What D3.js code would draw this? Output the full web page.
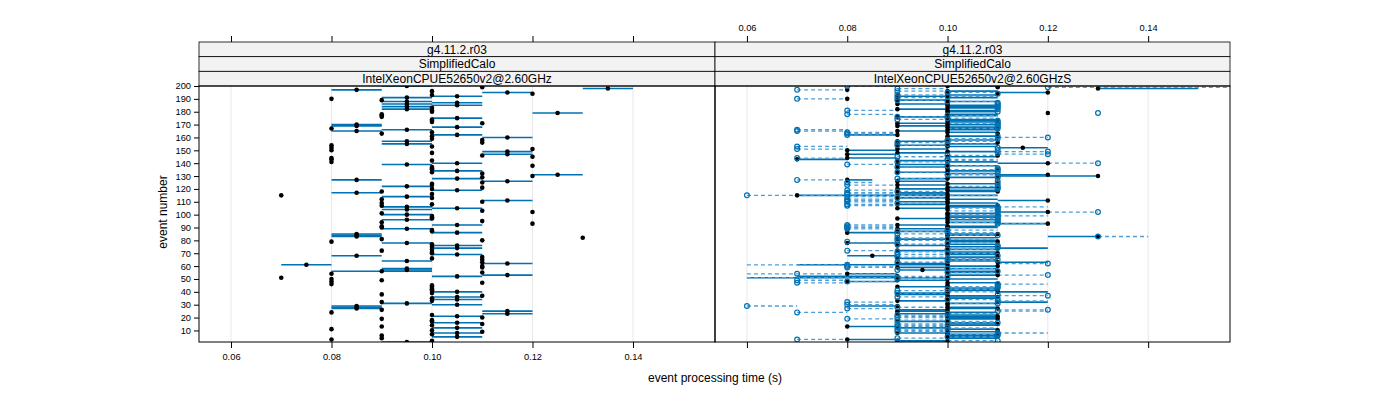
<!DOCTYPE html>
<html><head><meta charset="utf-8">
<script src="https://cdn.jsdelivr.net/npm/d3@7/dist/d3.min.js"></script>
<style>body{margin:0;background:#fff} text{font-family:"Liberation Sans",Arial,sans-serif}</style>
</head><body><svg id="c" width="1400" height="400"></svg>
<script>
// ---------- data (times in centiseconds, i.e. 1/100 s) ----------
const stripTop = ["g4.11.2.r03", "g4.11.2.r03"];
const stripMid = ["SimplifiedCalo", "SimplifiedCalo"];
const stripBot = ["IntelXeonCPUE52650v2@2.60GHz", "IntelXeonCPUE52650v2@2.60GHzS"];
const xTicks = [0.06, 0.08, 0.10, 0.12, 0.14];
const xTickLabels = ["0.06", "0.08", "0.10", "0.12", "0.14"];
const yTicks = [10,20,30,40,50,60,70,80,90,100,110,120,130,140,150,160,170,180,190,200];
const eventIds = [
 1,2,3,4,5,6,7,8,9,10,11,12,13,14,15,16,17,18,19,20,21,22,23,24,25,26,27,28,29,30,31,32,33,34,35,36,37,38,39,40,
 41,42,43,44,45,46,47,48,49,50,51,52,53,54,55,56,57,58,59,60,61,62,63,64,65,66,67,68,69,70,71,72,73,74,75,76,77,78,79,80,
 81,82,83,84,85,86,87,88,89,90,91,92,93,94,95,96,97,98,99,100,101,102,103,104,105,106,107,108,109,110,111,112,113,114,115,116,117,118,119,120,
 121,122,123,124,125,126,127,128,129,130,131,132,133,134,135,136,137,138,139,140,141,142,143,144,145,146,147,148,149,150,151,152,153,154,155,156,157,158,159,160,
 161,162,163,164,165,166,167,168,169,170,171,172,173,174,175,176,177,178,179,180,181,182,183,184,185,186,187,188,189,190,191,192,193,194,195,196,197,198,199,200];

// left panel: run range (min, max); point = mean
const leftMin = [
 9,10,8,9,10,9,10,10,11,10, 8,10,9,10,11,10,10,10,9,11, 10,10,11,8,11,9,8,8,8,10, 9,9,10,10,10,10,11,9,10,10,
 10,10,10,10,10,8,11,8,9,8, 7,10,11,8,11,8,9,9,11,11, 7,11,11,9,11,10,11,8,10,10, 10,9,10,10,10,10,10,9,8,11,
 9,13,8,8,8,10,10,10,9,9, 9,10,12,9,11,9,10,10,10,9, 9,12,11,9,10,9,9,10,9,11, 11,9,10,9,7,10,8,9,10,10,
 11,9,10,10,11,11,8,10,11,12, 12,11,10,10,10,10,10,12,9,10, 8,10,8,8,12,11,11,10,11,8, 12,8,10,8,9,11,9,11,10,11,
 10,10,9,10,8,9,8,10,8,8, 11,10,10,10,10,9,9,9,12,10, 10,9,10,9,10,9,10,9,9,8, 9,10,10,12,11,10,8,13,11,9];
const leftMax = [
 10,10,8,9,11,9,10,11,11,10, 8,11,9,10,11,11,10,10,9,11, 11,10,12,8,12,9,9,9,9,11, 10,9,10,11,10,11,11,9,10,11,
 10,10,10,10,10,8,11,8,9,8, 7,11,12,8,11,10,10,10,11,11, 8,12,11,10,11,10,11,9,11,10, 10,9,10,11,10,11,10,10,8,11,
 9,13,9,9,9,11,10,10,10,9, 9,11,12,9,11,10,10,10,10,10, 9,12,11,10,11,10,9,10,9,11, 12,9,10,10,7,10,9,9,11,10,
 11,10,10,10,11,12,9,11,11,12, 13,11,10,11,10,10,10,12,10,11, 8,10,8,8,12,11,12,10,12,8, 12,8,10,8,10,11,10,11,10,12,
 10,11,9,10,9,10,8,11,9,9, 11,10,10,10,11,9,9,9,13,10, 10,10,10,10,11,10,11,10,9,8, 10,11,10,12,12,10,9,14,11,10];

// right panel, group 1 (filled black points, solid range lines)
const rBlackPt = [
 10,9,8,10,10,11,10,9,10,11, 10,9,8,10,11,10,9,10,11,10, 11,10,9,10,9,10,11,10,9,10, 10,11,9,10,10,11,10,9,10,11,
 10,11,10,9,10,11,10,8,9,10, 10,9,11,8,10,11,9.5,10,9,11, 10,9,11,10,10,9,11,8.5,10,11, 10,9,10,11,10,9,10,8,11,10,
 9,10,13,10,11,8,9,10,9,10, 10,9,12,10,11,10,9,10,11,10, 10,12,11,10,9,10,11,9,10,10, 12,10,9,10,7,10,9,11,10,9,
 10,11,9,10,11,9,8,10,11,13, 12,10,9,10,11,10,9,10,9,12, 10,9,7,8,10,11,8,9,10,8, 9,11.5,10,9,10,11,9,10,10,11,
 10,9,11,10,9,10,11,10,9,10, 9,10,11,10,10,9,10,10,12,10, 10,9,10,11,10,9,10,10,9,8, 10,9,10,11,12,10,8,13,11,10];
const rBlackMin = [
 9,9,8,10,10,10,10,9,10,11, 10,9,8,10,10,10,9,10,10,10, 10,10,9,10,9,9,10,10,8,10, 10,11,9,10,10,10,10,9,9,11,
 10,10,10,9,10,11,10,8,9,10, 6,7,10,8,10,10,9,10,9,10, 7,9,11,10,10,9,10,8,10,10, 10,9,10,11,10,9,10,8,10,10,
 9,10,12,10,10,8,9,10,9,10, 10,9,11,10,11,10,9,10,10,10, 10,11,11,10,9,10,10,9,10,9, 11,10,9,10,7,9,9,10,10,9,
 10,11,9,10,11,9,8,9,10,11, 11,10,9,10,11,10,9,10,9,11, 10,9,7,8,10,11,8,9,10,8, 9,11,10,9,10,11,9,10,10,11,
 10,8,11,10,9,10,10,10,9,10, 9,10,10,10,10,9,10,10,12,10, 10,9,10,10,10,9,10,10,9,8, 10,9,10,11,11,10,8,13,11,10];
const rBlackMax = [
 10,10,9,11,11,11,11,10,11,11, 11,10,9,11,11,11,10,10,11,11, 11,11,10,11,10,10,11,11,9,10, 11,12,10,10,11,11,11,10,10,12,
 11,11,11,10,10,11,11,9,10,11, 10,9,11,9,11,11,10,11,10,11, 10,10,12,11,11,10,11,9,11,11, 11,10,11,12,11,10,11,9,11,11,
 10,11,13,11,11,9,10,10,10,11, 11,10,12,11,11,11,10,11,11,10, 11,12,11,10,10,11,11,10,11,10, 12,11,10,10,11,10,10,11,11,10,
 11,11,10,11,11,10,8.5,10,11,13, 12,11,10,11,11,10,10,11,10,12, 11,10,8,9,11,11,9,10,11,9, 10,12,11,10,11,11,10,11,10,11,
 11,9,11,11,10,11,11,11,10,11, 10,11,11,11,10,10,11,11,12,11, 11,10,11,11,11,10,10,11,10,8, 11,10,11,11,12,11,8,15,11,11];

// right panel, group 2 (open blue points, dashed range lines)
const rBluePt = [
 9,11,7,9,10,11,11,11,9,10, 9,10,9,10,9,11,10,9,8,9, 10,9,10,7,11,12,8,9,6,8, 11,8,11,10,11,9,12,11,9,10,
 9,10,11,11,11,11,7,8,7,9, 9,10,12,7,10,11,9,10,8,8, 8,12,9,10,11,10,9,11,9,10, 9,8,10,11,11,11,9,10,8,9,
 10,9,13,11,9,10,9,10,8,8, 8,8,11,11,11,11,11,11,11,11, 11,13,11,11,11,11,8,8,9,8, 8,8,9,8,6,8,8,9,8,11,
 11,11,8,11,8,11,7,9,11,11, 10,11,9,11,11,11,9,10,8,13, 9,10,10,7,9,10,12,11,12,11, 7,11,7,9,10,9,10,10,11,12,
 11,8,8,8,7,7,11,11,11,11, 11,11,11,9,10,9,10,8,13,11, 8,11,11,11,11,11,11,10,9,7, 9,10,9,11,10,9,7,9,12,8];
const rBlueMin = [
 9,10,7,9,10,11,10,11,9,9, 9,10,9,9,9,10,10,9,8,9, 9,9,10,7,11,11,8,9,6,8, 10,8,11,10,11,9,11,11,9,10,
 9,10,11,10,11,11,7,8,7,9, 6,9,11,6,10,11,9,10,8,8, 6,11,9,10,10,10,9,11,9,10, 9,8,10,10,11,11,9,10,8,9,
 10,9,13,10,9,10,9,10,8,8, 8,8,11,10,11,11,10,11,11,10, 11,12,10,11,10,11,8,8,9,8, 8,8,9,8,6,8,8,9,8,11,
 11,10,8,11,8,11,7,9,11,11, 10,10,9,11,10,11,9,10,8,12, 9,10,10,7,9,10,11,11,11,11, 7,11,7,9,10,9,10,10,10,11,
 11,8,8,8,7,7,10,11,11,11, 10,11,11,9,10,9,10,8,13,11, 8,11,11,11,11,11,11,10,9,7, 9,10,9,11,10,9,7,9,12,8];
const rBlueMax = [
 10,11,8,10,11,11,11,12,10,10, 10,11,10,10,10,11,11,10,9,10, 10,10,11,8,12,12,9,10,7,9, 11,9,12,11,11,10,12,11,10,11,
 10,11,11,11,11,12,8,9,8,10, 10,10,12,9,11,11,10,11,9,9, 8,12,10,11,11,11,10,11,10,11, 10,9,11,11,11,11,10,11,8,10,
 11,10,14,11,10,11,10,11,9,9, 9,9,12,11,11,11,11,11,12,11, 11,13,11,11,11,12,9,9,10,9, 9,9,10,9,11,9,9,10,9,11,
 11,11,9,11,8.5,11,8,10,11,11, 11,11,10,11,11,11,10,11,9,13, 10,11,11,8,10,11,12,11,12,11, 8,11,8,10,11,10,11,11,11,12,
 11,9,9,9,8,8,11,11,11,11, 11,11,11,10,11,10,11,9,13,11, 9,11,11,11,11,11,11,11,10,8, 10,11,10,11,11,10,8,10,16,9];

// ---------- layout ----------
const svg = d3.select("#c");
const panels = [{x0:199, x1:715}, {x0:715, x1:1230}];
const stripY0 = 42, stripH = 14.67, pTop = 86, pBot = 342;
const y = d3.scaleLinear().domain([1, 200]).range([pBot, pTop]);
const xScales = panels.map(p => d3.scaleLinear().domain([0.053632, 0.156322]).range([p.x0, p.x1]));
const cs = v => v / 100;

const blue = "#0072B2", lightBlue = "#4d9fd6";

panels.forEach((p, i) => {
  const x = xScales[i];
  const g = svg.append("g");
  const clipId = "clip" + i;
  svg.append("clipPath").attr("id", clipId).append("rect")
    .attr("x", p.x0).attr("y", pTop).attr("width", p.x1 - p.x0).attr("height", pBot - pTop);
  const inner = g.append("g").attr("clip-path", `url(#${clipId})`);
  inner.selectAll("line.grid").data(xTicks).join("line")
    .attr("x1", d => x(d)).attr("x2", d => x(d)).attr("y1", pTop).attr("y2", pBot)
    .attr("stroke", "#e8e8e8").attr("stroke-width", 1);

  if (i === 0) {
    const d0 = eventIds.map((e, k) => ({e, lo: cs(leftMin[k]), hi: cs(leftMax[k])}));
    inner.selectAll("line.seg").data(d0.filter(d => d.hi > d.lo)).join("line")
      .attr("x1", d => x(d.lo)).attr("x2", d => x(d.hi)).attr("y1", d => y(d.e)).attr("y2", d => y(d.e))
      .attr("stroke", blue).attr("stroke-width", 1.6);
    inner.selectAll("circle.pt").data(d0).join("circle")
      .attr("cx", d => x((d.lo + d.hi) / 2)).attr("cy", d => y(d.e)).attr("r", 2.3).attr("fill", "#000");
  } else {
    const dB = eventIds.map((e, k) => ({e, p: cs(rBlackPt[k]), lo: cs(rBlackMin[k]), hi: cs(rBlackMax[k])}));
    const dU = eventIds.map((e, k) => ({e, p: cs(rBluePt[k]), lo: cs(rBlueMin[k]), hi: cs(rBlueMax[k])}));
    inner.selectAll("line.segb").data(dB.filter(d => d.hi > d.lo)).join("line")
      .attr("x1", d => x(d.lo)).attr("x2", d => x(d.hi)).attr("y1", d => y(d.e)).attr("y2", d => y(d.e))
      .attr("stroke", blue).attr("stroke-width", 1.6);
    inner.selectAll("line.segu").data(dU.filter(d => d.hi > d.lo)).join("line")
      .attr("x1", d => x(d.lo)).attr("x2", d => x(d.hi)).attr("y1", d => y(d.e)).attr("y2", d => y(d.e))
      .attr("stroke", lightBlue).attr("stroke-width", 1.3).attr("stroke-dasharray", "4,3");
    inner.selectAll("circle.ptb").data(dB).join("circle")
      .attr("cx", d => x(d.p)).attr("cy", d => y(d.e)).attr("r", 2.3).attr("fill", "#000");
    inner.selectAll("circle.ptu").data(dU).join("circle")
      .attr("cx", d => x(d.p)).attr("cy", d => y(d.e)).attr("r", 2.4)
      .attr("fill", "none").attr("stroke", blue).attr("stroke-width", 1.2);
  }

  [stripTop[i], stripMid[i], stripBot[i]].forEach((t, k) => {
    const sy = stripY0 + k * stripH;
    g.append("rect").attr("x", p.x0).attr("y", sy).attr("width", p.x1 - p.x0).attr("height", stripH)
      .attr("fill", "#f2f2f2").attr("stroke", "#000").attr("stroke-width", 0.8);
    g.append("text").attr("x", (p.x0 + p.x1) / 2).attr("y", sy + stripH / 2 + 4.2)
      .attr("text-anchor", "middle").attr("font-size", 12).attr("fill", "#000").text(t);
  });
  g.append("rect").attr("x", p.x0).attr("y", pTop).attr("width", p.x1 - p.x0).attr("height", pBot - pTop)
    .attr("fill", "none").attr("stroke", "#000").attr("stroke-width", 1);

  const fmt = (d) => xTickLabels[xTicks.indexOf(d)];
  const bottom = d3.axisBottom(x).tickValues(xTicks).tickSize(6).tickPadding(5).tickFormat(i === 0 ? fmt : () => "");
  const topAx = d3.axisTop(x).tickValues(xTicks).tickSize(6).tickPadding(5).tickFormat(i === 1 ? fmt : () => "");
  const gb = svg.append("g").attr("transform", `translate(0,${pBot})`).call(bottom);
  const gt = svg.append("g").attr("transform", `translate(0,${stripY0})`).call(topAx);
  [gb, gt].forEach(a => {
    a.select(".domain").remove();
    a.selectAll("line").attr("stroke", "#000");
    a.selectAll("text").attr("font-size", 9.3).attr("fill", "#000").attr("font-family", "Liberation Sans, Arial, sans-serif");
  });
});

const yl = svg.append("g").attr("transform", `translate(${panels[0].x0},0)`)
  .call(d3.axisLeft(y).tickValues(yTicks).tickSize(5).tickPadding(3));
yl.select(".domain").remove();
yl.selectAll("line").attr("stroke", "#000");
yl.selectAll("text").attr("font-size", 9.3).attr("fill", "#000").attr("font-family", "Liberation Sans, Arial, sans-serif");

svg.append("text").attr("x", 715).attr("y", 382).attr("text-anchor", "middle").attr("font-size", 12)
  .text("event processing time (s)");
svg.append("text").attr("transform", `translate(167,${(pTop + pBot) / 2 - 2}) rotate(-90)`)
  .attr("text-anchor", "middle").attr("font-size", 12).text("event number");
</script></body></html>
